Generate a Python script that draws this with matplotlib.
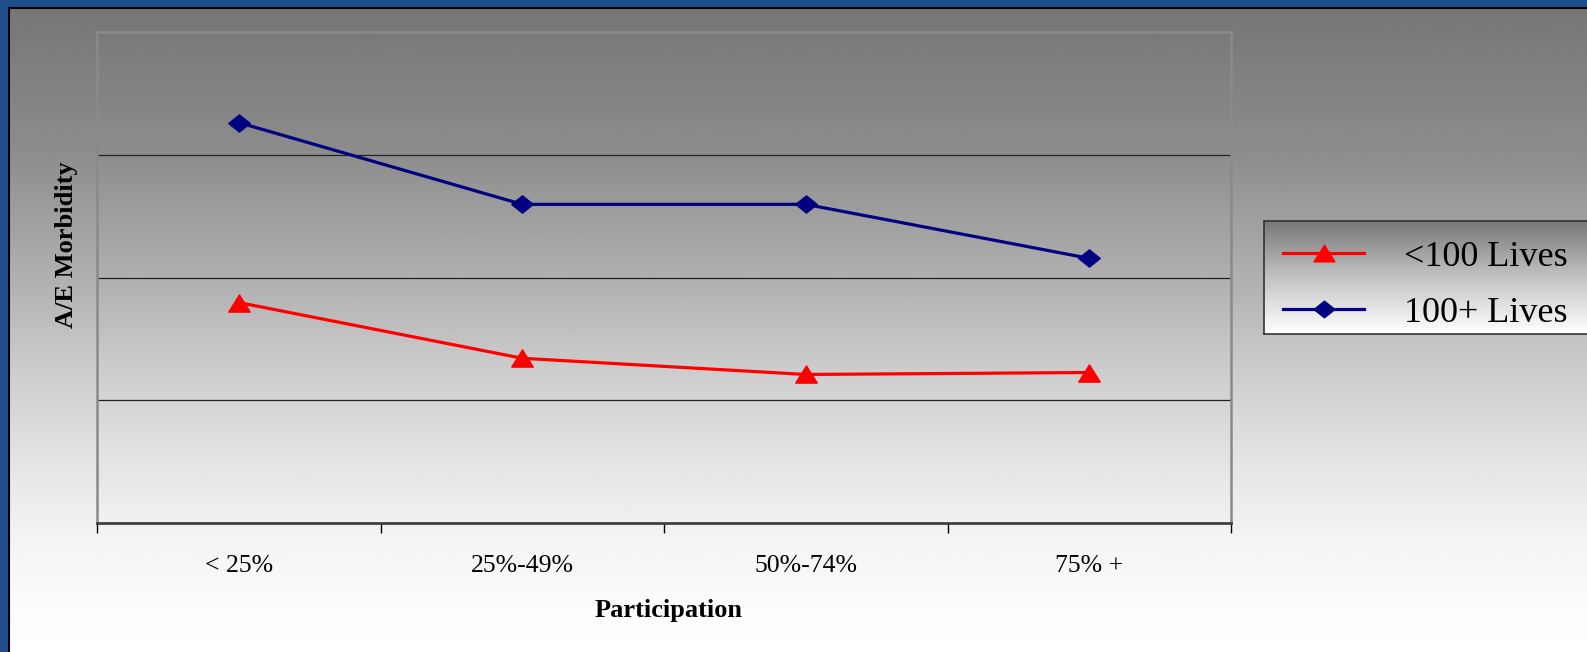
import numpy as np
import matplotlib

matplotlib.use("Agg")
import matplotlib.pyplot as plt
from matplotlib.path import Path

# data
categories = ["< 25%", "25%-49%", "50%-74%", "75% +"]
small_groups = [0.898, 0.671, 0.605, 0.613]   # <100 Lives
large_groups = [1.631, 1.298, 1.298, 1.078]   # 100+ Lives
series_names = ["<100 Lives", "100+ Lives"]
grid_levels = [0.5, 1.0, 1.5]

W, H = 1587, 652
plt.rcParams["font.family"] = ["Liberation Serif", "DejaVu Serif"]

TRIANGLE = Path([(0, 0.8), (-1, -0.8), (1, -0.8), (0, 0.8)], closed=True)
DIAMOND = Path([(-1, 0), (0, 0.8), (1, 0), (0, -0.8), (-1, 0)], closed=True)
RED = "#ff0000"
NAVY = "#000080"


def _gray_ramp(stops_y, stops_v, n):
    rows = np.interp(np.linspace(0, 1, n), stops_y, stops_v) / 255.0
    return np.repeat(rows[:, None], 2, axis=1)


def _fig_rect(left, top, right, bottom):
    return [left / W, 1 - bottom / H, (right - left) / W, (bottom - top) / H]


fig = plt.figure(figsize=(W / 100, H / 100), dpi=100, facecolor="#1f4e8c")

# slide background: gray to white ramp inside the blue border
bg = fig.add_axes(_fig_rect(9, 8, W, H), zorder=-5)
ramp = _gray_ramp([0, 0.22, 0.42, 0.57, 0.69, 0.81, 0.93, 1.0],
                  [118, 140, 176, 206, 226, 242, 252, 255], 400)
bg.imshow(ramp, cmap="gray", vmin=0, vmax=1, aspect="auto", extent=(0, 1, 0, 1))
bg.set_xticks([])
bg.set_yticks([])
for side, spine in bg.spines.items():
    spine.set_color("black")
    spine.set_linewidth(1.5)
    spine.set_visible(side in ("left", "top"))

# main plot
ax = fig.add_axes(_fig_rect(97, 32, 1231, 523))
ax.patch.set_visible(False)
x = np.arange(len(categories))
ax.plot(x, small_groups, color=RED, lw=2.3, marker=TRIANGLE, ms=15.5, mec=RED, mfc=RED)
ax.plot(x, large_groups, color=NAVY, lw=2.3, marker=DIAMOND, ms=15.5, mec=NAVY, mfc=NAVY)

ax.set_xlim(-0.5, len(categories) - 0.5)
ax.set_ylim(0, 2.0)
ax.set_yticks(grid_levels)
ax.tick_params(axis="y", length=0, labelleft=False)
ax.grid(axis="y", color="#222222", lw=0.9)

ax.set_xticks(x)
ax.set_xticklabels(categories, fontsize=18.5)
ax.tick_params(axis="x", which="major", length=0, pad=23)
ax.set_xticks(np.arange(len(categories) + 1) - 0.5, minor=True)
ax.tick_params(axis="x", which="minor", length=7, width=1, color="black", direction="out")

for side in ("left", "top", "right"):
    ax.spines[side].set_color("#8a8a8a")
    ax.spines[side].set_linewidth(1.8)
ax.spines["bottom"].set_color("#404040")
ax.spines["bottom"].set_linewidth(2)

fig.text(67 / W, 1 - 245 / H, "A/E Morbidity", rotation=90, ha="center", va="center",
         fontsize=19, fontweight="bold")
fig.text(669 / W, 1 - 610 / H, "Participation", ha="center", va="center",
         fontsize=19, fontweight="bold")

# legend box with its own ramp, running off the right edge
lax = fig.add_axes(_fig_rect(1264, 221, 1600, 334))
lax.imshow(_gray_ramp([0, 0.5, 1.0], [120, 195, 255], 200), cmap="gray", vmin=0, vmax=1,
           aspect="auto", extent=(0, 336, 113, 0))
lax.set_xlim(0, 336)
lax.set_ylim(113, 0)
lax.set_xticks([])
lax.set_yticks([])
for spine in lax.spines.values():
    spine.set_color("#333333")
    spine.set_linewidth(1.2)

for row_y, name, color, marker in zip([32, 88], series_names, [RED, NAVY], [TRIANGLE, DIAMOND]):
    lax.plot([19, 100], [row_y, row_y], color=color, lw=2.3)
    lax.plot([59.5], [row_y], marker=marker, ms=15, color=color, ls="none")
    lax.text(140, row_y + 4, name, fontsize=26, va="center", ha="left")

fig.savefig("out.png", dpi=100, facecolor=fig.get_facecolor())
